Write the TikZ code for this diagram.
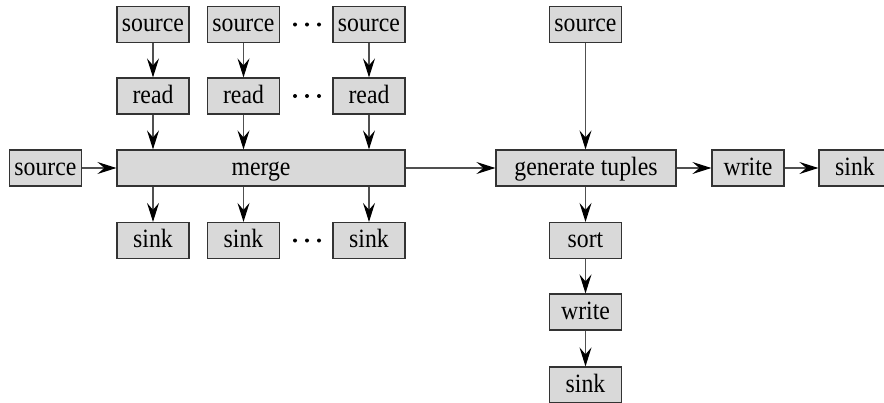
\documentclass[tikz,border=0pt]{standalone}
\usepackage{fontspec}
\setmainfont[FakeStretch=0.9]{Liberation Serif}
\usetikzlibrary{arrows.meta}
\definecolor{boxfill}{HTML}{D9D9D9}
\definecolor{boxline}{HTML}{333333}
\definecolor{arrline}{HTML}{505050}
\tikzset{
  opbox/.style={draw=boxline, fill=boxfill, line width=0.6pt, minimum width=36pt, minimum height=18pt, inner sep=0pt, text height=8pt, text depth=1pt, font=\fontsize{13.2}{16}\selectfont},
  flow/.style={draw=arrline, line width=0.55pt, -{Stealth[length=9.5pt,width=6pt,inset=3.5pt,color=black]}},
  dotc/.style={fill=black, circle, inner sep=0pt, minimum size=2pt},
  dotgrp/.style={inner sep=0pt, minimum width=14pt, minimum height=4pt}
}
\begin{document}
\begin{tikzpicture}[x=0.5pt,y=-0.5pt]
\useasboundingbox (0,0) rectangle (884,402);
\clip (0,0) rectangle (884,402);
% left part
\node[opbox] (s1) at (153,24.5) {source};
\node[opbox] (s2) at (243.5,24.5) {source};
\node[opbox] (s3) at (369,24.5) {source};
\node[opbox] (r1) at (153,96) {read};
\node[opbox] (r2) at (243.5,96) {read};
\node[opbox] (r3) at (369,96) {read};
\node[opbox, minimum width=144pt] (m) at (261,168) {merge};
\node[opbox] (sl) at (45.5,168) {source};
\node[opbox] (k1) at (153,240.5) {sink};
\node[opbox] (k2) at (243.5,240.5) {sink};
\node[opbox] (k3) at (369,240.5) {sink};
\foreach \n/\y in {d1/24.5, d2/96, d3/240.5}{
  \node[dotgrp] (\n) at (307,\y) {};
  \node[dotc] at ([xshift=-6pt]\n.center) {};
  \node[dotc] at (\n.center) {};
  \node[dotc] at ([xshift=6pt]\n.center) {};
}
% right part
\node[opbox] (sr) at (585.5,24.5) {source};
\node[opbox, minimum width=90pt] (g) at (586,168) {generate tuples};
\node[opbox] (w1) at (748,168) {write};
\node[opbox] (k4) at (855,168) {sink};
\node[opbox] (so) at (585.5,240.5) {sort};
\node[opbox] (w2) at (585.5,312) {write};
\node[opbox] (k5) at (585.5,385) {sink};
% connectors
\draw[flow] (s1) -- (r1);
\draw[flow] (s2) -- (r2);
\draw[flow] (s3) -- (r3);
\draw[flow] (r1) -- (r1 |- m.north);
\draw[flow] (r2) -- (r2 |- m.north);
\draw[flow] (r3) -- (r3 |- m.north);
\draw[flow] (k1 |- m.south) -- (k1);
\draw[flow] (k2 |- m.south) -- (k2);
\draw[flow] (k3 |- m.south) -- (k3);
\draw[flow] (sl) -- (m);
\draw[flow] (m) -- (g);
\draw[flow] (sr) -- (sr |- g.north);
\draw[flow] (g) -- (w1);
\draw[flow] (w1) -- (k4);
\draw[flow] (so |- g.south) -- (so);
\draw[flow] (so) -- (w2);
\draw[flow] (w2) -- (k5);
\end{tikzpicture}
\end{document}
